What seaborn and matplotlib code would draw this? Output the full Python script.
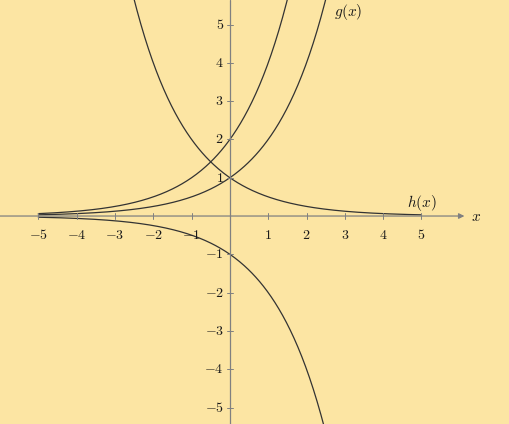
import numpy as np
import pandas as pd
import seaborn as sns
import matplotlib
matplotlib.use("Agg")
import matplotlib.pyplot as plt

# curves: y = coef * base**(sign*x + shift), sampled on [-5, 5]
names = ['f', 'g', 'h', 'k']
coefs = [1, 1, 1, -1]
signs = [1, 1, -1, 1]
shifts = [1, 0, 0, 0]
base = 2
x = np.linspace(-5, 5, 401)

xticks = [-5, -4, -3, -2, -1, 1, 2, 3, 4, 5]
yticks = [-5, -4, -3, -2, -1, 1, 2, 3, 4, 5]

rows = []
for n, c, s, sh in zip(names, coefs, signs, shifts):
    rows.append(pd.DataFrame({'x': x, 'y': c * base ** (s * x + sh), 'curve': n}))
df = pd.concat(rows)

sns.set_style('white')
plt.rcParams['mathtext.fontset'] = 'cm'
bg = '#fce5a3'

fig = plt.figure(figsize=(5.1, 4.24), dpi=100, facecolor=bg)
ax = fig.add_axes([0, 0, 1, 1], facecolor=bg)
sns.lineplot(data=df, x='x', y='y', units='curve', estimator=None,
             color='#333333', lw=0.9, ax=ax, legend=False)

ax.set_xlim(-6.0, 7.31)
ax.set_ylim(-5.43, 5.64)
for sp in ax.spines.values():
    sp.set_visible(False)
ax.set_xticks([])
ax.set_yticks([])
ax.set_xlabel('')
ax.set_ylabel('')

axis_col = '#808080'
ax.annotate('', xy=(6.12, 0), xytext=(-6.0, 0),
            arrowprops=dict(arrowstyle='-|>', color=axis_col, lw=0.9,
                            mutation_scale=8, shrinkA=0, shrinkB=0))
ax.axvline(0, color=axis_col, lw=0.9)
ax.text(6.3, 0, '$x$', fontsize=11, va='center', ha='left', color='#1a1a1a')

tk = 0.07
for t in xticks:
    ax.plot([t, t], [-tk, tk], color=axis_col, lw=0.7)
    ax.text(t, -0.3, f'${t}$', fontsize=10, ha='center', va='top', color='#1a1a1a')
for t in yticks:
    ax.plot([-tk, tk], [t, t], color=axis_col, lw=0.7)
    ax.text(-0.16, t, f'${t}$', fontsize=10, ha='right', va='center', color='#1a1a1a')

ax.text(2.72, 5.32, '$g(x)$', fontsize=11, ha='left', va='center', color='#1a1a1a')
ax.text(5.0, 0.34, '$h(x)$', fontsize=11, ha='center', va='center', color='#1a1a1a')

fig.savefig('out.png', dpi=100, facecolor=bg)
